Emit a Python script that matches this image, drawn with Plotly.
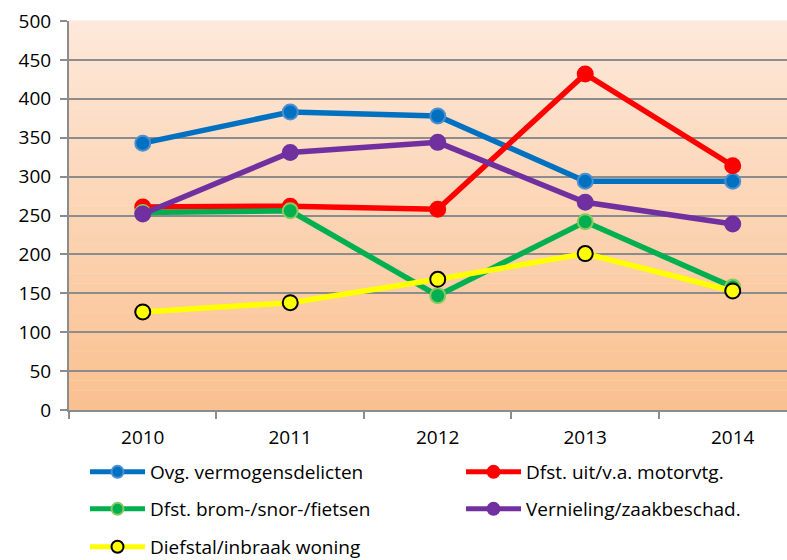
import plotly.graph_objects as go

years = ["2010", "2011", "2012", "2013", "2014"]
ovg = [343, 383, 378, 294, 294]
motor = [261, 262, 258, 432, 314]
fiets = [254, 256, 147, 242, 158]
vernieling = [252, 331, 344, 267, 239]
woning = [126, 138, 168, 201, 153]

# name, values, colour, marker outline, legend id
series = [
    ("Ovg. vermogensdelicten", ovg, "#0070C0", "#4A8FD0", "legend"),
    ("Dfst. uit/v.a. motorvtg.", motor, "#FF0000", "#FF0000", "legend2"),
    ("Dfst. brom-/snor-/fietsen", fiets, "#00B050", "#8CC860", "legend3"),
    ("Vernieling/zaakbeschad.", vernieling, "#7030A0", "#7030A0", "legend4"),
    ("Diefstal/inbraak woning", woning, "#FFFF00", "#000000", "legend5"),
]

fig = go.Figure()
for name, vals, col, outline, leg in series:
    fig.add_trace(go.Scatter(
        x=years, y=vals, name=name, mode="lines+markers", legend=leg,
        line=dict(color=col, width=5.5),
        marker=dict(size=15, color=col, line=dict(color=outline, width=2)),
    ))

# gradient background bands in the plot area
top = (253, 233, 218)
bot = (250, 192, 143)
n = 40
shapes = []
for i in range(n):
    t = (i + 0.5) / n
    c = tuple(round(top[k] + (bot[k] - top[k]) * t) for k in range(3))
    shapes.append(dict(type="rect", xref="x domain", yref="y domain",
                       x0=0, x1=1, y0=1 - (i + 1) / n, y1=1 - i / n + 0.001,
                       fillcolor="rgb(%d,%d,%d)" % c, line=dict(width=0), layer="below"))

FONT = "Open Sans, Noto Sans, sans-serif"
FS = 19

def leg(x, y):
    return dict(orientation="h", x=x, y=y, xanchor="left", yanchor="middle",
                font=dict(size=FS, family=FONT, color="#000000"),
                bgcolor="rgba(0,0,0,0)", itemwidth=55, itemsizing="constant")

c1, c2 = 0.0223, 0.546
r1, r2, r3 = -0.1594, -0.2545, -0.352

# figure is slightly taller than the 560px window so the bottom legend row
# does not push the plot margins; the extra strip is cropped by the window
fig.update_layout(
    width=787, height=585,
    margin=dict(l=69, r=0, t=21, b=175),
    paper_bgcolor="white", plot_bgcolor="rgba(0,0,0,0)",
    font=dict(family=FONT, size=FS, color="#000000"),
    shapes=shapes,
    showlegend=True,
    legend=leg(c1, r1),
    legend2=leg(c2, r1),
    legend3=leg(c1, r2),
    legend4=leg(c2, r2),
    legend5=leg(c1, r3),
)
fig.update_xaxes(
    type="category", range=[-0.5, 4.368], automargin=False,
    showline=True, linecolor="#8C8C8C", linewidth=2,
    ticks="outside", tickson="boundaries", ticklen=7, tickcolor="#8C8C8C", tickwidth=2,
    ticklabelstandoff=9,
    showgrid=False, tickfont=dict(size=FS, family=FONT, color="#000000"),
)
fig.update_yaxes(
    range=[0, 500], dtick=50, automargin=False,
    showline=True, linecolor="#8C8C8C", linewidth=2,
    ticks="outside", ticklen=7, tickcolor="#8C8C8C", tickwidth=2,
    ticklabelstandoff=5,
    showgrid=True, gridcolor="#8C8C8C", gridwidth=2,
    zeroline=False, tickfont=dict(size=FS, family=FONT, color="#000000"),
)

fig.write_html("out.html", config={"displayModeBar": False},
               post_script="document.body.style.margin='0';document.body.style.overflow='hidden';")
